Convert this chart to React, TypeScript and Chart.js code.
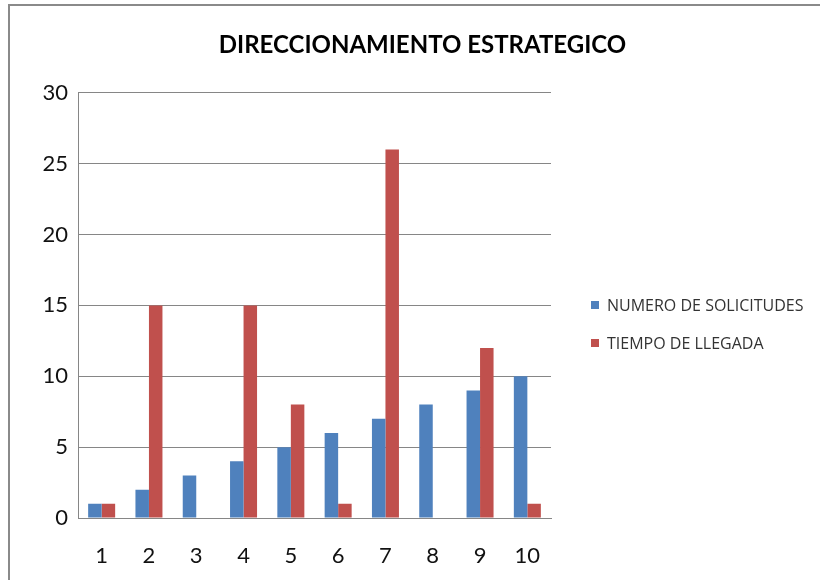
import React, { useEffect, useRef } from "react";
import { Chart, registerables } from "chart.js";

Chart.register(...registerables);

const categories = ["1", "2", "3", "4", "5", "6", "7", "8", "9", "10"];
const solicitudes = [1, 2, 3, 4, 5, 6, 7, 8, 9, 10];
const tiempo = [1, 15, 0, 15, 8, 1, 26, 0, 12, 1];
const seriesLabels = ["NUMERO DE SOLICITUDES", "TIEMPO DE LLEGADA"];
const seriesColors = ["#4F81BD", "#C0504D"];
const chartTitle = "DIRECCIONAMIENTO ESTRATEGICO";

const legendPlugin = {
  id: "customLegend",
  afterDraw(chart: any) {
    const ctx = chart.ctx;
    const x0 = chart.chartArea.right + 40;
    ctx.save();
    ctx.font = '16px "Open Sans"';
    ctx.textBaseline = "middle";
    ctx.textAlign = "left";
    chart.data.datasets.forEach((ds: any, i: number) => {
      const y = 305 + i * 38;
      ctx.fillStyle = ds.backgroundColor;
      ctx.fillRect(x0, y - 4, 8, 8);
      ctx.fillStyle = "#333333";
      ctx.fillText(ds.label, x0 + 16, y + 1);
    });
    ctx.restore();
  },
};

export default function App() {
  const ref = useRef<HTMLCanvasElement | null>(null);
  useEffect(() => {
    if (!ref.current) return;
    const chart = new Chart(ref.current, {
      type: "bar",
      data: {
        labels: categories,
        datasets: [
          { label: seriesLabels[0], data: solicitudes, backgroundColor: seriesColors[0] },
          { label: seriesLabels[1], data: tiempo, backgroundColor: seriesColors[1] },
        ],
      },
      options: {
        responsive: false,
        animation: false,
        layout: { padding: { left: 25, right: 0, top: 0, bottom: 0 } },
        datasets: { bar: { categoryPercentage: 0.571, barPercentage: 1 } } as any,
        plugins: {
          legend: { display: false },
          tooltip: { enabled: false },
          title: {
            display: true,
            text: chartTitle,
            color: "#000000",
            font: { family: "Lato", size: 24, weight: "bold" },
            padding: { top: 31, bottom: 33 },
          },
        },
        scales: {
          x: {
            grid: { display: false, drawTicks: false },
            border: { display: true, color: "#868686", width: 1 },
            ticks: { color: "#111111", font: { family: "Lato", size: 22 }, padding: 25 },
            afterFit: (s: any) => {
              s.height = 62;
            },
          },
          y: {
            min: 0,
            max: 30,
            grid: { color: "#868686", lineWidth: 1, drawTicks: false },
            border: { display: true, color: "#868686", width: 1 },
            ticks: { stepSize: 5, color: "#111111", font: { family: "Lato", size: 22 }, padding: 10 },
            afterFit: (s: any) => {
              s.width = 53;
            },
          },
          y2: {
            type: "linear",
            position: "right",
            display: true,
            grid: { display: false, drawTicks: false },
            border: { display: false },
            ticks: { display: false },
            afterFit: (s: any) => {
              s.width = 269;
            },
          },
        },
      } as any,
      plugins: [legendPlugin],
    });
    return () => chart.destroy();
  }, []);

  return (
    <div style={{ position: "absolute", left: 0, top: 0, width: 820, height: 580, background: "#fff", overflow: "hidden" }}>
      <canvas ref={ref} width={820} height={580} style={{ position: "absolute", left: 0, top: 0 }} />
      <div
        style={{
          position: "absolute",
          left: 8,
          top: 4,
          width: 812,
          height: 576,
          boxSizing: "border-box",
          borderLeft: "2px solid #8a8a8a",
          borderTop: "2px solid #8a8a8a",
          pointerEvents: "none",
        }}
      />
    </div>
  );
}
